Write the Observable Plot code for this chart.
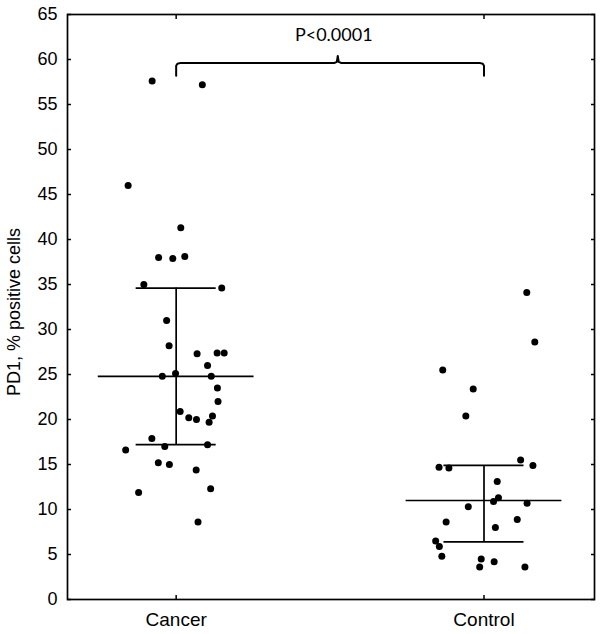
<!DOCTYPE html>
<html>
<head>
<meta charset="utf-8">
<script src="https://cdn.jsdelivr.net/npm/d3@7"></script>
<script src="https://cdn.jsdelivr.net/npm/@observablehq/plot@0.6"></script>
<style>
  html, body { margin: 0; padding: 0; background: #fff; }
  #chart svg { display: block; }
</style>
</head>
<body>
<div id="chart"></div>
<script>
// ---- data ----
const groups = ["Cancer", "Control"];
const groupPos = [1, 2];

const cancerValues = [57.6, 57.2, 46.0, 41.3, 38.0, 37.9, 38.1, 35.0, 34.6, 31.0,
  28.2, 27.3, 27.4, 27.4, 26.0, 24.8, 25.1, 24.8, 23.5, 22.0,
  20.9, 20.2, 20.0, 20.4, 19.7, 17.9, 17.0, 17.2, 16.6, 15.2,
  15.0, 14.4, 11.9, 12.3, 8.6];
const cancerJitter = [-0.078, 0.085, -0.156, 0.015, -0.057, -0.011, 0.028, -0.105, 0.148, -0.031,
  -0.023, 0.068, 0.133, 0.156, 0.102, -0.045, -0.002, 0.114, 0.134, 0.136,
  0.013, 0.041, 0.066, 0.118, 0.107, -0.079, -0.037, 0.102, -0.164, -0.058,
  -0.022, 0.065, -0.122, 0.112, 0.071];

const controlValues = [34.1, 28.6, 25.5, 23.4, 20.4, 15.5, 14.7, 14.6, 14.9, 13.1,
  11.3, 10.9, 10.7, 10.3, 8.9, 8.6, 8.0, 6.5, 5.9, 4.8,
  4.5, 3.6, 4.2, 3.6];
const controlJitter = [0.139, 0.165, -0.134, -0.035, -0.059, 0.119, -0.146, -0.114, 0.159, 0.043,
  0.047, 0.031, 0.140, -0.051, 0.108, -0.123, 0.037, -0.157, -0.145, -0.137,
  -0.009, -0.014, 0.033, 0.133];

const centerValues = [24.8, 11.0];
const upperValues = [34.6, 14.9];
const lowerValues = [17.2, 6.4];

const yDomain = [0, 65];
const xDomain = [0.647, 2.359];
const yTicks = [0, 5, 10, 15, 20, 25, 30, 35, 40, 45, 50, 55, 60, 65];
const yLabel = "PD1, % positive cells";

const pLabel = "P<0.0001";
const bracketEnds = [1.0, 2.0];
const bracketPeakX = 1.525;
const bracketEndY = 58.2, bracketBarY = 59.6, bracketPeakY = 60.4;
const pLabelX = 1.512, pLabelY = 62.7;

// ---- derived tables ----
const points = [
  ...cancerValues.map((v, i) => ({x: groupPos[0] + cancerJitter[i], y: v})),
  ...controlValues.map((v, i) => ({x: groupPos[1] + controlJitter[i], y: v}))
];
const summary = groupPos.map((g, i) => ({x: g, c: centerValues[i], hi: upperValues[i], lo: lowerValues[i]}));

const [bx0, bx1] = bracketEnds, bxm = bracketPeakX;
const bracket = [
  [bx0, bracketEndY], [bx0, bracketBarY - 0.3], [bx0 + 0.004, bracketBarY - 0.08], [bx0 + 0.012, bracketBarY],
  [bxm - 0.012, bracketBarY], [bxm - 0.003, bracketBarY + 0.15], [bxm, bracketPeakY],
  [bxm + 0.003, bracketBarY + 0.15], [bxm + 0.012, bracketBarY],
  [bx1 - 0.012, bracketBarY], [bx1 - 0.004, bracketBarY - 0.08], [bx1, bracketBarY - 0.3], [bx1, bracketEndY]
].map(([x, y]) => ({x, y}));

const sw = 1.7;

const chart = Plot.plot({
  width: 602,
  height: 634,
  marginLeft: 67,
  marginRight: 8,
  marginTop: 14,
  marginBottom: 35,
  style: {fontFamily: "'Liberation Sans', Arial, sans-serif", color: "black", background: "white"},
  x: {type: "linear", domain: xDomain},
  y: {domain: yDomain},
  marks: [
    Plot.ruleY(summary, {y: "c", x1: d => d.x - 0.253, x2: d => d.x + 0.253, stroke: "black", strokeWidth: sw}),
    Plot.ruleY(summary, {y: "hi", x1: d => d.x - 0.13, x2: d => d.x + 0.13, stroke: "black", strokeWidth: sw}),
    Plot.ruleY(summary, {y: "lo", x1: d => d.x - 0.13, x2: d => d.x + 0.13, stroke: "black", strokeWidth: sw}),
    Plot.ruleX(summary, {x: "x", y1: "lo", y2: "hi", stroke: "black", strokeWidth: sw}),
    Plot.dot(points, {x: "x", y: "y", r: 3.5, fill: "black", stroke: "none"}),
    Plot.line(bracket, {x: "x", y: "y", stroke: "black", strokeWidth: 2, strokeLinejoin: "round", strokeLinecap: "round"}),
    Plot.text([pLabel], {x: () => pLabelX, y: () => pLabelY, text: d => d, fontSize: 18, fontFamily: "Lato, 'Open Sans', sans-serif", fill: "black"}),
    Plot.frame({stroke: "black", strokeWidth: sw}),
    Plot.axisY(yTicks, {anchor: "left", tickSize: 0, tickPadding: 10, fontSize: 18, label: null}),
    Plot.axisY(yTicks, {anchor: "left", tickSize: -4, fill: "none", strokeWidth: 1.5, label: null}),
    Plot.axisY(yTicks, {anchor: "right", tickSize: -4, fill: "none", strokeWidth: 1.5, label: null}),
    Plot.axisX(groupPos, {anchor: "bottom", tickSize: 0, tickPadding: 13, fontSize: 19, label: null,
      tickFormat: d => groups[groupPos.indexOf(d)]}),
    Plot.axisX(groupPos, {anchor: "bottom", tickSize: -4, fill: "none", strokeWidth: 1.5, label: null}),
    Plot.axisX(groupPos, {anchor: "top", tickSize: -4, fill: "none", strokeWidth: 1.5, label: null}),
    Plot.text([yLabel], {x: () => xDomain[0], y: () => (yDomain[0] + yDomain[1]) / 2, dx: -53, dy: 89,
      rotate: -90, textAnchor: "start", text: d => d, fontSize: 18, fill: "black"})
  ]
});
document.getElementById("chart").appendChild(chart);
</script>
</body>
</html>
